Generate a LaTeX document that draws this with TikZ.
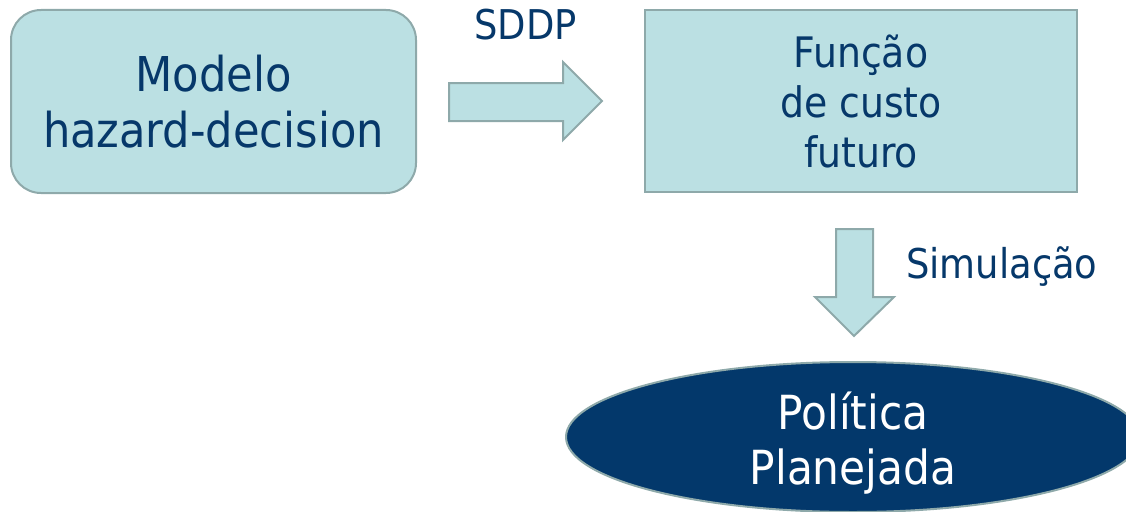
\documentclass[tikz,border=0pt]{standalone}
\usepackage{fontspec}
\setmainfont{DejaVu Sans Condensed}
\usetikzlibrary{shapes.geometric}
\definecolor{boxfill}{HTML}{BBE0E3}
\definecolor{boxline}{HTML}{8EA9AA}
\definecolor{ink}{HTML}{06386A}
\definecolor{navy}{HTML}{03386B}
\tikzset{
  block/.style={draw=boxline, line width=2pt, fill=boxfill, text=ink, align=center, inner sep=0pt},
  blockarrow/.style={draw=boxline, line width=2pt, fill=boxfill, line join=miter},
  lbl/.style={text=ink, inner sep=0pt, anchor=base west},
}
\begin{document}
\begin{tikzpicture}[x=1pt, y=-1pt]
  \useasboundingbox (0,0) rectangle (1126,511);
  \clip (0,0) rectangle (1126,511);

  % model box
  \node[block, rounded corners=30pt, minimum width=405pt, minimum height=183pt,
        font=\fontsize{48}{56}\selectfont] (model) at (213.5,101.5) {Modelo\\hazard-decision};

  % future cost function box
  \node[block, minimum width=432pt, minimum height=182pt,
        font=\fontsize{42}{50}\selectfont] (fcf) at (861,101) {Função\\de custo\\futuro};

  % planned policy ellipse and its caption
  \node[ellipse, draw=boxline, line width=2pt, fill=navy,
        minimum width=574pt, minimum height=150pt, inner sep=0pt] (policy) at (853,437) {};
  \node[text=white, align=center, inner sep=0pt, font=\fontsize{47}{55}\selectfont]
        (policytext) at ([yshift=-6pt]policy.center) {Política\\Planejada};

  % SDDP arrow
  \draw[blockarrow] (449,83) -- (563,83) -- (563,62) -- (602,101) -- (563,140) -- (563,121) -- (449,121) -- cycle;
  \node[lbl] (sddp) at (474,40) {\fontsize{41}{44}\selectfont SDDP};

  % simulation arrow
  \draw[blockarrow] (836,229) -- (873,229) -- (873,297) -- (894,297) -- (854,336) -- (815,297) -- (836,297) -- cycle;
  \node[lbl] (sim) at (906,278) {\fontsize{41}{44}\selectfont Simulação};
\end{tikzpicture}
\end{document}
